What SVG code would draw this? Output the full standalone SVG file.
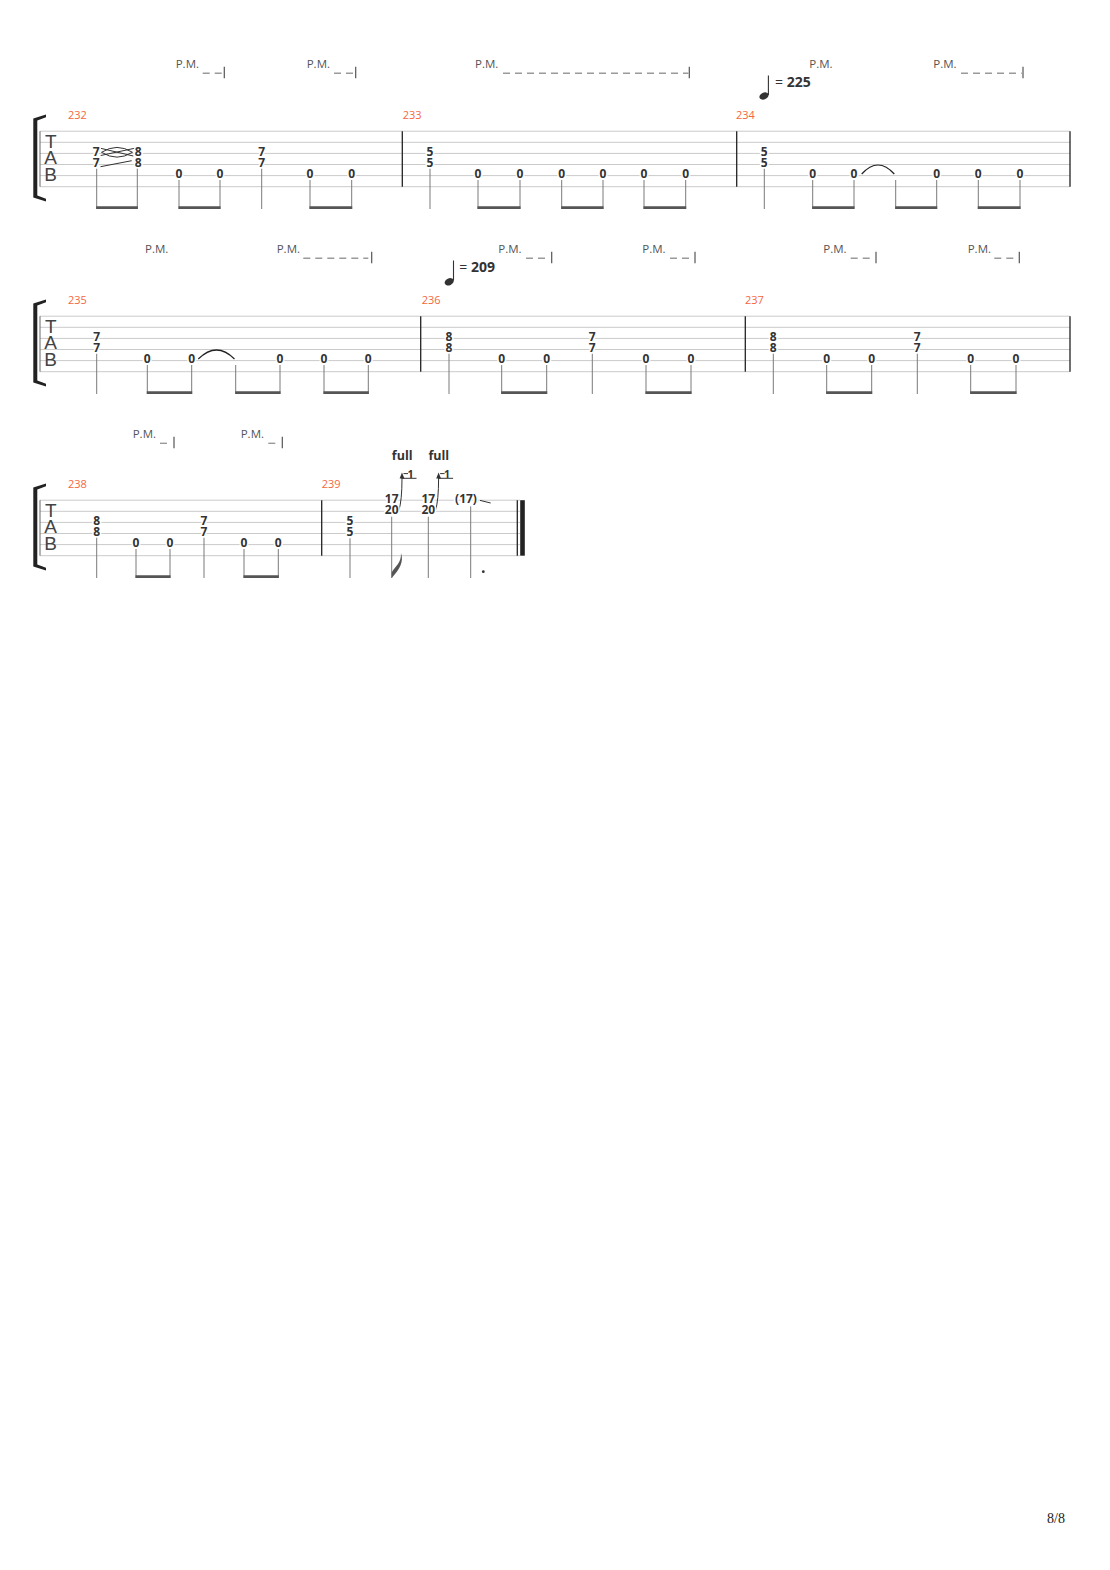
<svg xmlns="http://www.w3.org/2000/svg" width="1110" height="1570" viewBox="0 0 1110 1570">
<style>
.bg{fill:#fff}
.sl{stroke:#cacaca;stroke-width:1}
.lb{stroke:#666;stroke-width:1}
.bar{stroke:#222;stroke-width:1.3}
.st{stroke:#7a7a7a;stroke-width:1}
.bm{stroke:#555;stroke-width:2.8}
.fn{font-family:"Open Sans","Noto Sans",sans-serif;font-weight:bold;font-size:12px;fill:#333;text-anchor:middle;stroke:#fff;stroke-width:3;paint-order:stroke}
.mn{font-family:"Open Sans","Noto Sans",sans-serif;font-size:11px;fill:#f5673d}
.pm{font-family:"Open Sans","Noto Sans",sans-serif;font-size:11.5px;fill:#555}
.pmd{stroke:#9a9a9a;stroke-width:1.4;stroke-dasharray:7 5}
.pmt{stroke:#555;stroke-width:1.2}
.tab{font-family:"Liberation Sans",sans-serif;font-size:19px;fill:#444;text-anchor:middle}
.tmp{font-family:"Open Sans","Noto Sans",sans-serif;font-size:14px;fill:#333}
.tie{fill:none;stroke:#222;stroke-width:1.2}
.orn{fill:none;stroke:#333;stroke-width:1}
.full{font-family:"Open Sans","Noto Sans",sans-serif;font-weight:bold;font-size:12.5px;fill:#333;text-anchor:middle}
</style>
<defs>
<g id="staff6">
<line class="sl" x1="40" y1="131.2" x2="1070" y2="131.2"/>
<line class="sl" x1="40" y1="142.3" x2="1070" y2="142.3"/>
<line class="sl" x1="40" y1="153.4" x2="1070" y2="153.4"/>
<line class="sl" x1="40" y1="164.5" x2="1070" y2="164.5"/>
<line class="sl" x1="40" y1="175.6" x2="1070" y2="175.6"/>
<line class="sl" x1="40" y1="186.7" x2="1070" y2="186.7"/>
</g>
<g id="clef">
<path d="M33.3,118.5 L46,114.6 L46,117.2 L37.3,120.5 L37.3,195.5 L46,198.8 L46,201.4 L33.3,197.5 Z" fill="#222"/>
<line class="lb" x1="40" y1="131.2" x2="40" y2="186.7"/>
<text class="tab" x="50.7" y="148">T</text>
<text class="tab" x="50.7" y="163.5">A</text>
<text class="tab" x="50.7" y="181">B</text>
</g>
</defs>
<rect class="bg" x="0" y="0" width="1110" height="1570"/>

<!-- System 1 -->
<g id="system1">
<use href="#staff6"/>
<use href="#clef"/>
<g id="bars1">
<line class="bar" x1="402.3" y1="131.2" x2="402.3" y2="186.7"/>
<line class="bar" x1="736.7" y1="131.2" x2="736.7" y2="186.7"/>
<line class="bar" x1="1070" y1="131.2" x2="1070" y2="186.7"/>
</g>
<g id="m232">
<text class="mn" x="68" y="119">232</text>
<text class="pm" x="175.7" y="67.5">P.M.</text>
<line class="pmd" x1="202.7" y1="73.3" x2="223" y2="73.3"/><line class="pmt" x1="224.3" y1="66.7" x2="224.3" y2="78.3"/>
<text class="pm" x="306.7" y="67.5">P.M.</text>
<line class="pmd" x1="334" y1="73.3" x2="355" y2="73.3"/><line class="pmt" x1="355.7" y1="66.7" x2="355.7" y2="78.3"/>
<g id="connectors232">
<line class="st" x1="96.7" y1="168.5" x2="96.7" y2="209"/><line class="st" x1="137.3" y1="168.5" x2="137.3" y2="209"/>
<line class="bm" x1="96.2" y1="207.7" x2="137.8" y2="207.7"/>
<line class="st" x1="179" y1="180" x2="179" y2="209"/><line class="st" x1="220" y1="180" x2="220" y2="209"/>
<line class="bm" x1="178.5" y1="207.7" x2="220.5" y2="207.7"/>
<line class="st" x1="261.7" y1="168.5" x2="261.7" y2="209"/>
<line class="st" x1="310" y1="180" x2="310" y2="209"/><line class="st" x1="351.7" y1="180" x2="351.7" y2="209"/>
<line class="bm" x1="309.5" y1="207.7" x2="352.2" y2="207.7"/>
<line class="orn" x1="100.7" y1="148.3" x2="133.3" y2="156"/>
<line class="orn" x1="100.7" y1="155.5" x2="134.5" y2="148.3"/>
<path class="orn" d="M101.5,152.3 Q117,142.5 132.5,152.3 Q117,162 101.5,152.3 Z"/>
<line class="orn" x1="100.5" y1="166.7" x2="131.7" y2="160.7"/>
</g>
<text class="fn" x="96.2" y="155.7">7</text><text class="fn" x="96.2" y="166.8">7</text>
<text class="fn" x="138.3" y="155.7">8</text><text class="fn" x="138.3" y="166.8">8</text>
<text class="fn" x="179" y="177.9">0</text><text class="fn" x="220" y="177.9">0</text>
<text class="fn" x="261.7" y="155.7">7</text><text class="fn" x="261.7" y="166.8">7</text>
<text class="fn" x="310" y="177.9">0</text><text class="fn" x="351.7" y="177.9">0</text>
</g>
<g id="m233">
<text class="mn" x="402.7" y="119">233</text>
<text class="pm" x="475" y="67.5">P.M.</text>
<line class="pmd" x1="503" y1="73.3" x2="688.3" y2="73.3"/><line class="pmt" x1="689.3" y1="66.7" x2="689.3" y2="78.3"/>
<g id="connectors233">
<line class="st" x1="430" y1="168.5" x2="430" y2="209"/>
<line class="st" x1="478" y1="180" x2="478" y2="209"/><line class="st" x1="520" y1="180" x2="520" y2="209"/>
<line class="bm" x1="477.5" y1="207.7" x2="520.5" y2="207.7"/>
<line class="st" x1="561.7" y1="180" x2="561.7" y2="209"/><line class="st" x1="603" y1="180" x2="603" y2="209"/>
<line class="bm" x1="561.2" y1="207.7" x2="603.5" y2="207.7"/>
<line class="st" x1="644" y1="180" x2="644" y2="209"/><line class="st" x1="685.7" y1="180" x2="685.7" y2="209"/>
<line class="bm" x1="643.5" y1="207.7" x2="686.2" y2="207.7"/>
</g>
<text class="fn" x="430" y="155.7">5</text><text class="fn" x="430" y="166.8">5</text>
<text class="fn" x="478" y="177.9">0</text><text class="fn" x="520" y="177.9">0</text>
<text class="fn" x="561.7" y="177.9">0</text><text class="fn" x="603" y="177.9">0</text>
<text class="fn" x="644" y="177.9">0</text><text class="fn" x="685.7" y="177.9">0</text>
</g>
<g id="m234">
<text class="mn" x="736" y="119">234</text>
<text class="pm" x="809.3" y="67.5">P.M.</text>
<text class="pm" x="933.3" y="67.5">P.M.</text>
<line class="pmd" x1="961" y1="73.3" x2="1021.7" y2="73.3"/><line class="pmt" x1="1023" y1="66.7" x2="1023" y2="78.3"/>
<g id="tempo225">
<ellipse cx="764" cy="96" rx="4.8" ry="3.4" transform="rotate(-25 764 96)" fill="#333"/>
<line x1="768.4" y1="75.5" x2="768.4" y2="95" stroke="#333" stroke-width="1.1"/>
<text class="tmp" x="775" y="87.3">= <tspan font-weight="bold">225</tspan></text>
</g>
<g id="connectors234">
<line class="st" x1="764.3" y1="168.5" x2="764.3" y2="209"/>
<line class="st" x1="812.7" y1="180" x2="812.7" y2="209"/><line class="st" x1="854" y1="180" x2="854" y2="209"/>
<line class="bm" x1="812.2" y1="207.7" x2="854.5" y2="207.7"/>
<line class="st" x1="895.7" y1="180" x2="895.7" y2="209"/><line class="st" x1="936.7" y1="180" x2="936.7" y2="209"/>
<line class="bm" x1="895.2" y1="207.7" x2="937.2" y2="207.7"/>
<line class="st" x1="978.3" y1="180" x2="978.3" y2="209"/><line class="st" x1="1020" y1="180" x2="1020" y2="209"/>
<line class="bm" x1="977.8" y1="207.7" x2="1020.5" y2="207.7"/>
<path class="tie" d="M861.7,174 Q878,156 894.3,174"/>
</g>
<text class="fn" x="764.3" y="155.7">5</text><text class="fn" x="764.3" y="166.8">5</text>
<text class="fn" x="812.7" y="177.9">0</text><text class="fn" x="854" y="177.9">0</text>
<text class="fn" x="936.7" y="177.9">0</text><text class="fn" x="978.3" y="177.9">0</text>
<text class="fn" x="1020" y="177.9">0</text>
</g>
</g>

<!-- System 2 -->
<g id="system2" transform="translate(0,185)">
<use href="#staff6"/>
<use href="#clef"/>
<g id="bars2">
<line class="bar" x1="420.7" y1="131.2" x2="420.7" y2="186.7"/>
<line class="bar" x1="745.3" y1="131.2" x2="745.3" y2="186.7"/>
<line class="bar" x1="1070" y1="131.2" x2="1070" y2="186.7"/>
</g>
<g id="m235">
<text class="mn" x="68" y="119">235</text>
<text class="pm" x="145" y="67.5">P.M.</text>
<text class="pm" x="276.7" y="67.5">P.M.</text>
<line class="pmd" x1="303.3" y1="73.3" x2="368.3" y2="73.3"/><line class="pmt" x1="371.7" y1="66.7" x2="371.7" y2="78.3"/>
<g id="connectors235">
<line class="st" x1="96.7" y1="168.5" x2="96.7" y2="209"/>
<line class="st" x1="147.3" y1="180" x2="147.3" y2="209"/><line class="st" x1="191.7" y1="180" x2="191.7" y2="209"/>
<line class="bm" x1="146.8" y1="207.7" x2="192.2" y2="207.7"/>
<line class="st" x1="235.7" y1="180" x2="235.7" y2="209"/><line class="st" x1="280" y1="180" x2="280" y2="209"/>
<line class="bm" x1="235.2" y1="207.7" x2="280.5" y2="207.7"/>
<line class="st" x1="324" y1="180" x2="324" y2="209"/><line class="st" x1="368.3" y1="180" x2="368.3" y2="209"/>
<line class="bm" x1="323.5" y1="207.7" x2="368.8" y2="207.7"/>
<path class="tie" d="M198.3,174 Q216.5,156 234.5,174"/>
</g>
<text class="fn" x="96.7" y="155.7">7</text><text class="fn" x="96.7" y="166.8">7</text>
<text class="fn" x="147.3" y="177.9">0</text><text class="fn" x="191.7" y="177.9">0</text>
<text class="fn" x="280" y="177.9">0</text><text class="fn" x="324" y="177.9">0</text>
<text class="fn" x="368.3" y="177.9">0</text>
</g>
<g id="m236">
<text class="mn" x="421.7" y="119">236</text>
<text class="pm" x="498.3" y="67.5">P.M.</text>
<line class="pmd" x1="526" y1="73.3" x2="546.7" y2="73.3"/><line class="pmt" x1="551.7" y1="66.7" x2="551.7" y2="78.3"/>
<text class="pm" x="642.3" y="67.5">P.M.</text>
<line class="pmd" x1="670" y1="73.3" x2="690" y2="73.3"/><line class="pmt" x1="695" y1="66.7" x2="695" y2="78.3"/>
<g id="tempo209">
<ellipse cx="449.2" cy="96.8" rx="4.8" ry="3.4" transform="rotate(-25 449.2 96.8)" fill="#333"/>
<line x1="453.5" y1="75.5" x2="453.5" y2="95.5" stroke="#333" stroke-width="1.1"/>
<text class="tmp" x="459.3" y="87.3">= <tspan font-weight="bold">209</tspan></text>
</g>
<g id="connectors236">
<line class="st" x1="449" y1="168.5" x2="449" y2="209"/>
<line class="st" x1="501.7" y1="180" x2="501.7" y2="209"/><line class="st" x1="546.7" y1="180" x2="546.7" y2="209"/>
<line class="bm" x1="501.2" y1="207.7" x2="547.2" y2="207.7"/>
<line class="st" x1="592.3" y1="168.5" x2="592.3" y2="209"/>
<line class="st" x1="646" y1="180" x2="646" y2="209"/><line class="st" x1="691" y1="180" x2="691" y2="209"/>
<line class="bm" x1="645.5" y1="207.7" x2="691.5" y2="207.7"/>
</g>
<text class="fn" x="449" y="155.7">8</text><text class="fn" x="449" y="166.8">8</text>
<text class="fn" x="501.7" y="177.9">0</text><text class="fn" x="546.7" y="177.9">0</text>
<text class="fn" x="592.3" y="155.7">7</text><text class="fn" x="592.3" y="166.8">7</text>
<text class="fn" x="646" y="177.9">0</text><text class="fn" x="691" y="177.9">0</text>
</g>
<g id="m237">
<text class="mn" x="745" y="119">237</text>
<text class="pm" x="823.3" y="67.5">P.M.</text>
<line class="pmd" x1="850.7" y1="73.3" x2="871.3" y2="73.3"/><line class="pmt" x1="876" y1="66.7" x2="876" y2="78.3"/>
<text class="pm" x="967.7" y="67.5">P.M.</text>
<line class="pmd" x1="994.3" y1="73.3" x2="1015" y2="73.3"/><line class="pmt" x1="1019.3" y1="66.7" x2="1019.3" y2="78.3"/>
<g id="connectors237">
<line class="st" x1="773.3" y1="168.5" x2="773.3" y2="209"/>
<line class="st" x1="826.7" y1="180" x2="826.7" y2="209"/><line class="st" x1="871.7" y1="180" x2="871.7" y2="209"/>
<line class="bm" x1="826.2" y1="207.7" x2="872.2" y2="207.7"/>
<line class="st" x1="917.3" y1="168.5" x2="917.3" y2="209"/>
<line class="st" x1="970.7" y1="180" x2="970.7" y2="209"/><line class="st" x1="1016" y1="180" x2="1016" y2="209"/>
<line class="bm" x1="970.2" y1="207.7" x2="1016.5" y2="207.7"/>
</g>
<text class="fn" x="773.3" y="155.7">8</text><text class="fn" x="773.3" y="166.8">8</text>
<text class="fn" x="826.7" y="177.9">0</text><text class="fn" x="871.7" y="177.9">0</text>
<text class="fn" x="917.3" y="155.7">7</text><text class="fn" x="917.3" y="166.8">7</text>
<text class="fn" x="970.7" y="177.9">0</text><text class="fn" x="1016" y="177.9">0</text>
</g>
</g>

<!-- System 3 -->
<g id="system3" transform="translate(0,369)">
<g id="staff3">
<line class="sl" x1="40" y1="131.2" x2="520" y2="131.2"/>
<line class="sl" x1="40" y1="142.3" x2="520" y2="142.3"/>
<line class="sl" x1="40" y1="153.4" x2="520" y2="153.4"/>
<line class="sl" x1="40" y1="164.5" x2="520" y2="164.5"/>
<line class="sl" x1="40" y1="175.6" x2="520" y2="175.6"/>
<line class="sl" x1="40" y1="186.7" x2="520" y2="186.7"/>
</g>
<use href="#clef"/>
<g id="bars3">
<line class="bar" x1="321.7" y1="131.2" x2="321.7" y2="186.7"/>
<line class="bar" x1="517.3" y1="131.2" x2="517.3" y2="186.7"/>
<rect x="520.2" y="131.2" width="4.6" height="55.5" fill="#222"/>
</g>
<g id="m238">
<text class="mn" x="68" y="119">238</text>
<text class="pm" x="132.7" y="68.5">P.M.</text>
<line class="pmd" x1="160" y1="74.3" x2="167.7" y2="74.3"/><line class="pmt" x1="174" y1="67.7" x2="174" y2="79.3"/>
<text class="pm" x="240.7" y="68.5">P.M.</text>
<line class="pmd" x1="268.3" y1="74.3" x2="276" y2="74.3"/><line class="pmt" x1="282.3" y1="67.7" x2="282.3" y2="79.3"/>
<g id="connectors238">
<line class="st" x1="96.7" y1="168.5" x2="96.7" y2="209"/>
<line class="st" x1="136" y1="180" x2="136" y2="209"/><line class="st" x1="170" y1="180" x2="170" y2="209"/>
<line class="bm" x1="135.5" y1="207.7" x2="170.5" y2="207.7"/>
<line class="st" x1="204" y1="168.5" x2="204" y2="209"/>
<line class="st" x1="244" y1="180" x2="244" y2="209"/><line class="st" x1="278.3" y1="180" x2="278.3" y2="209"/>
<line class="bm" x1="243.5" y1="207.7" x2="278.8" y2="207.7"/>
</g>
<text class="fn" x="96.7" y="155.7">8</text><text class="fn" x="96.7" y="166.8">8</text>
<text class="fn" x="136" y="177.9">0</text><text class="fn" x="170" y="177.9">0</text>
<text class="fn" x="204" y="155.7">7</text><text class="fn" x="204" y="166.8">7</text>
<text class="fn" x="244" y="177.9">0</text><text class="fn" x="278.3" y="177.9">0</text>
</g>
<g id="m239">
<text class="mn" x="321.7" y="119">239</text>
<text class="full" x="402.2" y="91">full</text>
<text class="full" x="438.8" y="91">full</text>
<g id="connectors239">
<line class="st" x1="350" y1="169.3" x2="350" y2="209"/>
<line class="st" x1="391.7" y1="147.7" x2="391.7" y2="209"/>
<path d="M391.7,209 L391.7,203.5 C395,197 401.5,194.5 401,184 C404,193 399.5,200.5 391.7,209 Z" fill="#555"/>
<line class="st" x1="428.3" y1="147.7" x2="428.3" y2="209"/>
<line class="st" x1="470.7" y1="137" x2="470.7" y2="209"/>
<circle cx="483.3" cy="202.7" r="1.4" fill="#333"/>
<path class="orn" d="M398.8,141.5 Q402,132 402,109"/>
<polygon points="402,103.5 399.6,109.5 404.4,109.5" fill="#333"/>
<line class="orn" x1="403.5" y1="104.6" x2="408" y2="104.6"/>
<line class="orn" x1="401.5" y1="109.3" x2="416.5" y2="109.3"/>
<path class="orn" d="M435.4,141.5 Q438.6,132 438.6,109"/>
<polygon points="438.6,103.5 436.2,109.5 441,109.5" fill="#333"/>
<line class="orn" x1="440.1" y1="104.6" x2="444.6" y2="104.6"/>
<line class="orn" x1="438.1" y1="109.3" x2="453.1" y2="109.3"/>
<line class="orn" x1="480" y1="131.4" x2="490.7" y2="134"/>
</g>
<text x="407.5" y="108.5" font-family="Open Sans, Noto Sans, sans-serif" font-weight="bold" font-size="10.5" fill="#333">1</text>
<text x="444.1" y="108.5" font-family="Open Sans, Noto Sans, sans-serif" font-weight="bold" font-size="10.5" fill="#333">1</text>
<text class="fn" x="350" y="155.7">5</text><text class="fn" x="350" y="166.8">5</text>
<text class="fn" x="391.7" y="133.5">17</text><text class="fn" x="391.7" y="144.6">20</text>
<text class="fn" x="428.3" y="133.5">17</text><text class="fn" x="428.3" y="144.6">20</text>
<text class="fn" x="466" y="133.5">(17)</text>
</g>
</g>

<g id="footer">
<text x="1056" y="1523" font-family="Liberation Serif, serif" font-size="14" fill="#222" text-anchor="middle">8/8</text>
</g>
</svg>
